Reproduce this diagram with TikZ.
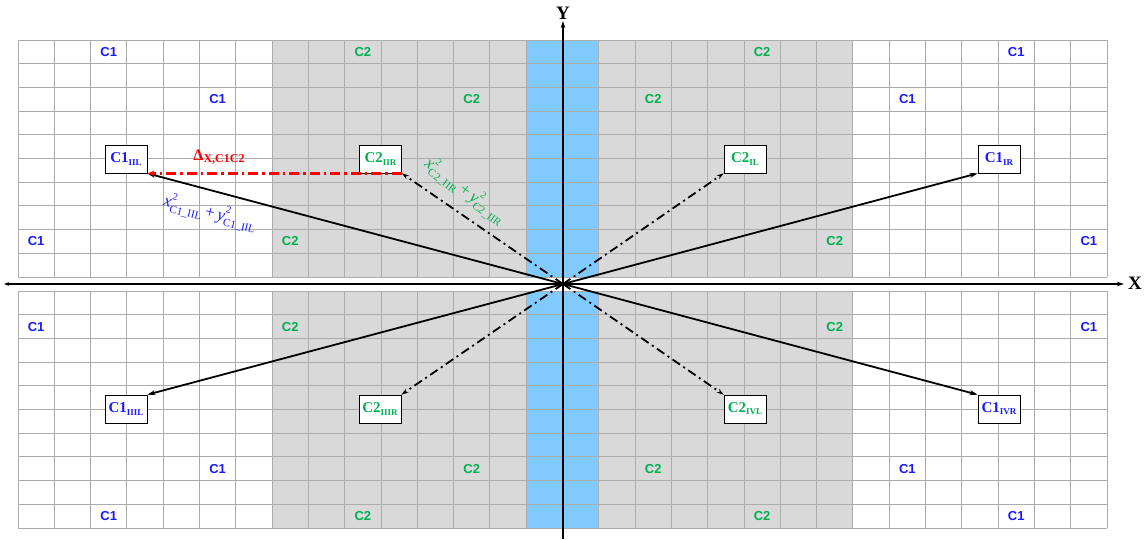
\documentclass[tikz,border=0pt]{standalone}
\usepackage{fontspec}
\setmainfont{Liberation Serif}
\newfontfamily\arialf{Liberation Sans}
\usetikzlibrary{arrows.meta}
\definecolor{cblue}{RGB}{25,25,255}
\definecolor{cgreen}{RGB}{0,176,80}
\definecolor{gfill}{RGB}{217,217,217}
\definecolor{bfill}{RGB}{128,202,255}
\definecolor{gline}{RGB}{172,172,172}
\definecolor{cred}{RGB}{255,0,0}
\newcommand\bsub[1]{\raisebox{-0.3ex}{\fontsize{9}{9}\selectfont #1}}
\newcommand\scr[1]{\rlap{\raisebox{1.1ex}{\fontsize{10}{10}\selectfont\upshape 2}}\raisebox{-0.6ex}{\fontsize{11}{11}\selectfont\upshape #1}}
\newcommand\mlab[1]{\fontsize{17}{18}\selectfont\textit{x}\scr{#1}\,+\,\textit{y}\scr{#1}}
\tikzset{
  gridline/.style={draw=gline, line width=0.9pt},
  glab/.style={font=\arialf\bfseries\fontsize{13}{15}\selectfont, inner sep=0pt},
  onelab/.style={glab, text=cblue},
  twolab/.style={glab, text=cgreen},
  ptbox/.style={draw=black, line width=0.7pt, fill=white, minimum width=42pt, minimum height=28pt, inner sep=0pt, font=\bfseries\fontsize{15}{17}\selectfont},
  tipA/.style={-{Stealth[length=8pt,width=5pt]}},
  solidarrow/.style={draw=black, line width=1.8pt, tipA},
  dasharrow/.style={draw=black, line width=1.8pt, dash pattern=on 9pt off 4pt on 2pt off 4pt, -{Stealth[length=7pt,width=4.5pt]}},
  redarrow/.style={draw=cred, line width=2.3pt, dash pattern=on 10pt off 4pt on 2.5pt off 4pt, -{Stealth[length=7pt,width=5pt]}},
  axisline/.style={draw=black, line width=1.2pt},
  axlab/.style={font=\bfseries\fontsize{19}{20}\selectfont, inner sep=0pt},
}
\begin{document}
\begin{tikzpicture}[x=1pt,y=-1pt]
\useasboundingbox (0,0) rectangle (1145,539);
% fills
\foreach \ya/\yb in {40/277, 291/528}{
  \fill[gfill] (272.1,\ya) rectangle (526.2,\yb);
  \fill[bfill] (526.2,\ya) rectangle (598.8,\yb);
  \fill[gfill] (598.8,\ya) rectangle (852.9,\yb);
  \foreach \i in {0,...,30}
    \draw[gridline] ({18+36.3*\i},\ya) -- ({18+36.3*\i},\yb);
  \foreach \j in {0,...,10}
    \draw[gridline] (18,{\ya+23.7*\j}) -- (1107,{\ya+23.7*\j});
}
% grid labels, top
\foreach \c/\r [count=\k] in {2/0,5/2,0/8,27/0,24/2,29/8}
  \node[onelab] (ta\k) at ({18+36.3*(\c+0.5)},{40+23.7*(\r+0.5)}) {C1};
\foreach \c/\r [count=\k] in {9/0,12/2,7/8,20/0,17/2,22/8}
  \node[twolab] (tb\k) at ({18+36.3*(\c+0.5)},{40+23.7*(\r+0.5)}) {C2};
% grid labels, bottom
\foreach \c/\r [count=\k] in {2/9,5/7,0/1,27/9,24/7,29/1}
  \node[onelab] (ba\k) at ({18+36.3*(\c+0.5)},{291+23.7*(\r+0.5)}) {C1};
\foreach \c/\r [count=\k] in {9/9,12/7,7/1,20/9,17/7,22/1}
  \node[twolab] (bb\k) at ({18+36.3*(\c+0.5)},{291+23.7*(\r+0.5)}) {C2};
% axes
\coordinate (O) at (563,284);
\coordinate (xl) at (4,284);
\coordinate (xr) at (1124,284);
\coordinate (yt) at (563,21);
\coordinate (yb) at (563,539);
\draw[axisline, {Stealth[length=5pt,width=3.5pt]}-{Stealth[length=7pt,width=4.5pt]}] (xl) -- (xr);
\draw[axisline, -{Stealth[length=7pt,width=4.5pt]}] (yb) -- (yt);
\node[axlab] (xlab) at (1135,283) {X};
\node[axlab] (ylab) at (563,13) {Y};
% boxes
\node[ptbox, text=cblue]  (c1iil)  at (126,159) {C1\bsub{IIL}};
\node[ptbox, text=cgreen] (c2iir)  at (380.5,159) {C2\bsub{IIR}};
\node[ptbox, text=cgreen] (c2il)   at (745,159) {C2\bsub{IL}};
\node[ptbox, text=cblue]  (c1ir)   at (999,159) {C1\bsub{IR}};
\node[ptbox, text=cblue]  (c1iiil) at (126,409) {C1\bsub{IIIL}};
\node[ptbox, text=cgreen] (c2iiir) at (380,409) {C2\bsub{IIIR}};
\node[ptbox, text=cgreen] (c2ivl)  at (745,409) {C2\bsub{IVL}};
\node[ptbox, text=cblue]  (c1ivr)  at (999,409) {C1\bsub{IVR}};
% connectors
\draw[solidarrow] (O) -- (c1iil.south east);
\draw[solidarrow] (O) -- (c1ir.south west);
\draw[solidarrow] (O) -- (c1iiil.north east);
\draw[solidarrow] (O) -- (c1ivr.north west);
\draw[dasharrow] (O) -- (c2iir.south east);
\draw[dasharrow] (O) -- (c2il.south west);
\draw[dasharrow] (O) -- (c2iiir.north east);
\draw[dasharrow] (O) -- (c2ivl.north west);
\draw[redarrow] (c2iir.south east) -- (c1iil.south east);
% labels
\node[text=cred, font=\bfseries\fontsize{16}{17}\selectfont, inner sep=0pt] (dlab) at (219,157) {Δ\raisebox{-0.35ex}{\fontsize{12}{12}\selectfont X,C1C2}};
\node[text=cblue, rotate=-14, inner sep=0pt] (dist1) at (210,213) {\mlab{C1\_IIL}};
\node[text=cgreen, rotate=-37, inner sep=0pt] (dist2) at (465,191) {\mlab{C2\_IIR}};
\end{tikzpicture}
\end{document}
